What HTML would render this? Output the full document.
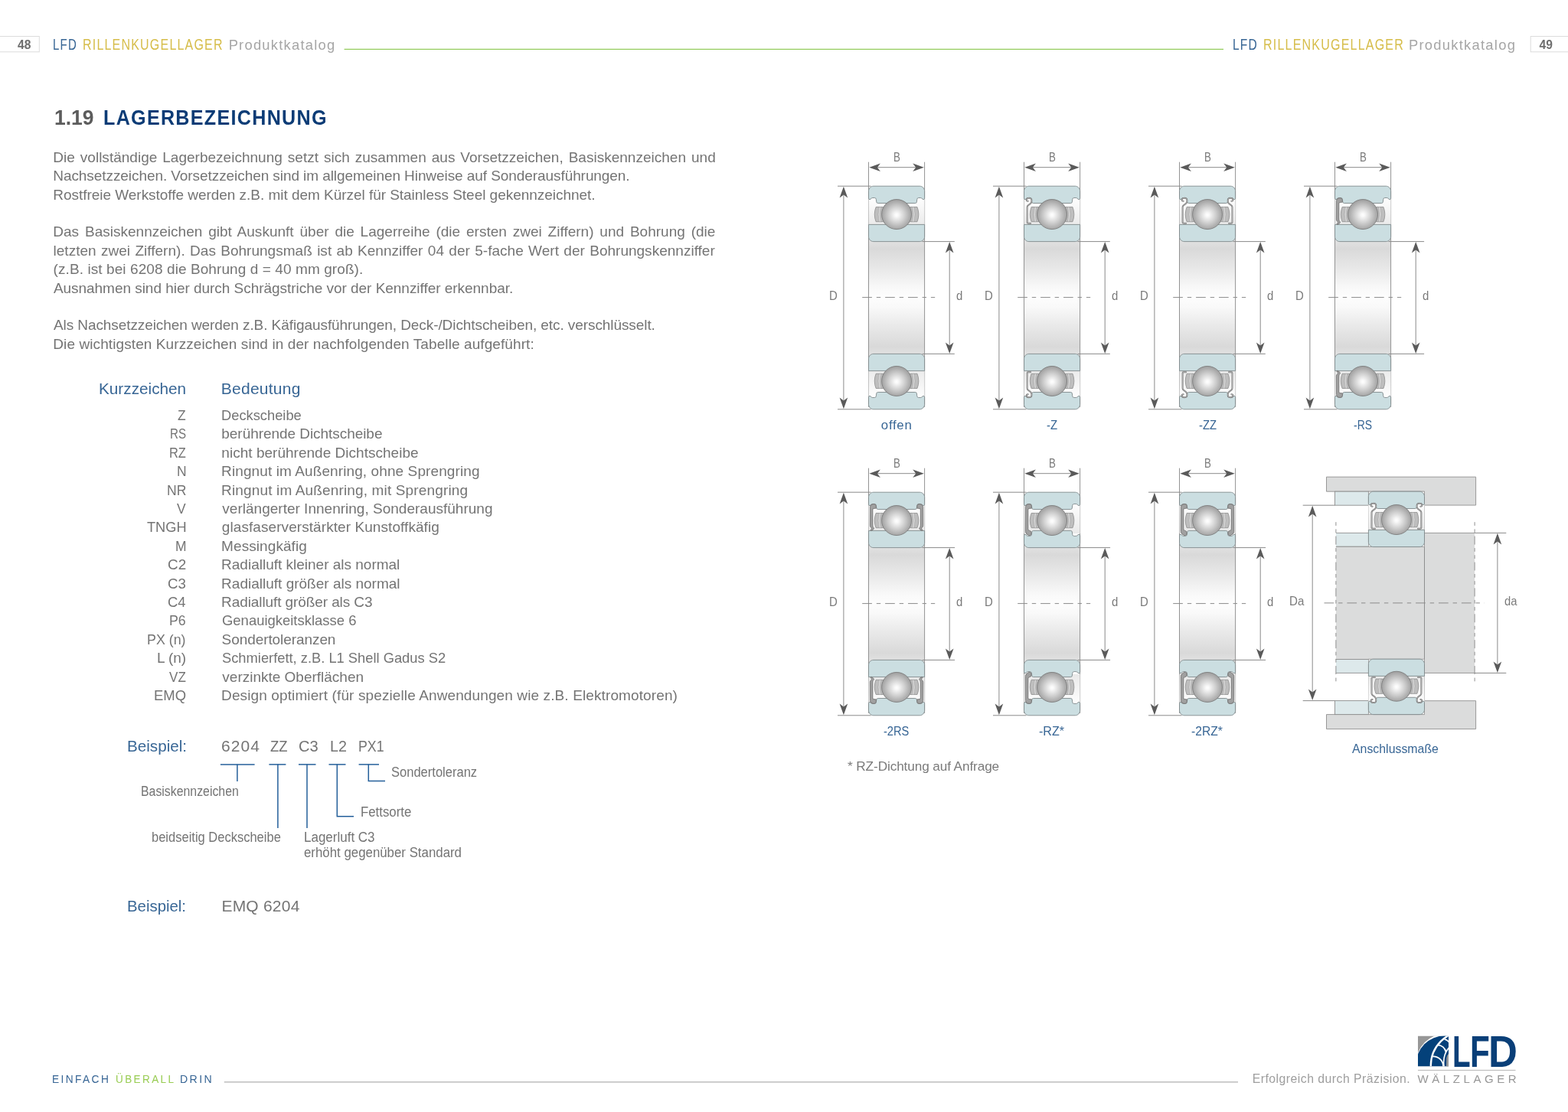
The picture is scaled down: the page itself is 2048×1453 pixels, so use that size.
<!DOCTYPE html>
<html lang="de"><head><meta charset="utf-8"><title>LFD Rillenkugellager Produktkatalog – 1.19 Lagerbezeichnung</title>
<style>
html,body{margin:0;padding:0;background:#fff}
body{width:2048px;height:1453px;position:relative;overflow:hidden;font-family:"Liberation Sans",sans-serif}
.txt{position:absolute;left:0;top:0;width:2048px;height:1453px;will-change:transform}
.t{position:absolute;white-space:pre;line-height:30px;height:30px;transform-origin:0 0}
.lfd{position:absolute;left:0;top:1343.5px;font-size:58px;line-height:60px;height:60px;font-weight:700;color:#0a3f78;white-space:pre}
.lfd span{position:absolute;top:0;display:block;transform-origin:0 0}
</style></head>
<body>
<svg width="2048" height="1453" viewBox="0 0 2048 1453" style="position:absolute;left:0;top:0"><defs>
<clipPath id="lgclip"><rect x="0" y="0" width="40" height="39.8"/></clipPath>
<radialGradient id="ball" cx="0.5" cy="0.52" r="0.52">
<stop offset="0" stop-color="#ffffff"/><stop offset="0.12" stop-color="#f8f8f8"/><stop offset="0.5" stop-color="#d2d2d2"/><stop offset="0.85" stop-color="#adadad"/><stop offset="1" stop-color="#9d9d9d"/>
</radialGradient>
<linearGradient id="gap" x1="0" y1="0" x2="0" y2="1">
<stop offset="0" stop-color="#ffffff"/><stop offset="0.35" stop-color="#f7f7f7"/><stop offset="1" stop-color="#e9e9e9"/>
</linearGradient>
<linearGradient id="bore" x1="0" y1="0" x2="0" y2="1">
<stop offset="0" stop-color="#e3e3e3"/><stop offset="0.08" stop-color="#d9d9d9"/><stop offset="0.26" stop-color="#e9e9e9"/><stop offset="0.42" stop-color="#f9f9f9"/><stop offset="0.5" stop-color="#fdfdfd"/><stop offset="0.58" stop-color="#f9f9f9"/><stop offset="0.74" stop-color="#e9e9e9"/><stop offset="0.92" stop-color="#d9d9d9"/><stop offset="1" stop-color="#e3e3e3"/>
</linearGradient>
</defs><rect x="-1" y="47.5" width="52.3" height="20.3" fill="#fff" stroke="#dcdcdc" stroke-width="1"/><rect x="1999.2" y="47.5" width="52" height="20.3" fill="#fff" stroke="#dcdcdc" stroke-width="1"/><line x1="449.6" y1="64.4" x2="1598" y2="64.4" stroke="#93cb5c" stroke-width="1.1"/><line x1="292.8" y1="1413.8" x2="1617" y2="1413.8" stroke="#b0b0b0" stroke-width="1.2"/><line x1="287.9" y1="998.9" x2="332.6" y2="998.9" stroke="#245f9a" stroke-width="1.5"/><line x1="351.4" y1="998.9" x2="373.4" y2="998.9" stroke="#245f9a" stroke-width="1.5"/><line x1="390" y1="998.9" x2="412.5" y2="998.9" stroke="#245f9a" stroke-width="1.5"/><line x1="429.5" y1="998.9" x2="451.5" y2="998.9" stroke="#245f9a" stroke-width="1.5"/><line x1="468.6" y1="998.9" x2="495" y2="998.9" stroke="#245f9a" stroke-width="1.5"/><line x1="309.9" y1="998.8" x2="309.9" y2="1021" stroke="#245f9a" stroke-width="1.5"/><line x1="362.9" y1="998.8" x2="362.9" y2="1082" stroke="#245f9a" stroke-width="1.5"/><line x1="401" y1="998.8" x2="401" y2="1082" stroke="#245f9a" stroke-width="1.5"/><path d="M440.3,998.8V1066.7H462" fill="none" stroke="#245f9a" stroke-width="1.5"/><path d="M481.3,998.8V1020.4H503" fill="none" stroke="#245f9a" stroke-width="1.5"/><rect x="1134.5" y="312.6" width="73.1" height="152.8" fill="url(#bore)"/><line x1="1134.5" y1="211.7" x2="1134.5" y2="531.8" stroke="#939393" stroke-width="1"/><line x1="1207.6" y1="211.7" x2="1207.6" y2="531.8" stroke="#939393" stroke-width="1"/><g transform="translate(1134.5,243.2)"><rect x="0" y="14" width="73.1" height="40" fill="url(#gap)"/><path d="M0 6.4C0 2.88 2.88 0 6.4 0L66.7 0C70.22 0 73.1 2.88 73.1 6.4L73.1 15.9Q73.1 17.4 71.6 17.4Q70.4 17.2 69.6 16.1Q68.9 15.3 67.7 15.3L65.2 15.3Q63.6 15.3 63.3 17.1L62.8 20.7Q62.6 22.3 61 22.3L12.1 22.3Q10.5 22.3 10.3 20.7L9.8 17.1Q9.5 15.3 7.9 15.3L5.4 15.3Q4.2 15.3 3.5 16.1Q2.7 17.2 1.5 17.4Q0 17.4 0 15.9Z" fill="#cbdee1" stroke="#7f898b" stroke-width="0.9"/><path d="M0 50.2L73.1 50.2L73.1 66C73.1 69.52 70.22 72.4 66.7 72.4L6.4 72.4C2.88 72.4 0 69.52 0 66Z" fill="#cbdee1" stroke="#7f898b" stroke-width="0.9"/><path d="M9.6 27.3L19 27.3L19 46.5L9.6 46.5Q5.9 36.9 9.6 27.3Z" fill="#bebebe" stroke="#8e8e8e" stroke-width="0.8"/><path d="M13.9 27.3Q11.2 36.9 13.9 46.5L16.2 46.5Q13.6 36.9 16.2 27.3Z" fill="#d9d9d9" stroke="#9a9a9a" stroke-width="0.5"/><path d="M63.5 27.3L54.1 27.3L54.1 46.5L63.5 46.5Q67.2 36.9 63.5 27.3Z" fill="#bebebe" stroke="#8e8e8e" stroke-width="0.8"/><path d="M59.2 27.3Q61.9 36.9 59.2 46.5L56.9 46.5Q59.5 36.9 56.9 27.3Z" fill="#d9d9d9" stroke="#9a9a9a" stroke-width="0.5"/></g><g transform="translate(1134.5,534.8) scale(1,-1)"><rect x="0" y="14" width="73.1" height="40" fill="url(#gap)"/><path d="M0 6.4C0 2.88 2.88 0 6.4 0L66.7 0C70.22 0 73.1 2.88 73.1 6.4L73.1 15.9Q73.1 17.4 71.6 17.4Q70.4 17.2 69.6 16.1Q68.9 15.3 67.7 15.3L65.2 15.3Q63.6 15.3 63.3 17.1L62.8 20.7Q62.6 22.3 61 22.3L12.1 22.3Q10.5 22.3 10.3 20.7L9.8 17.1Q9.5 15.3 7.9 15.3L5.4 15.3Q4.2 15.3 3.5 16.1Q2.7 17.2 1.5 17.4Q0 17.4 0 15.9Z" fill="#cbdee1" stroke="#7f898b" stroke-width="0.9"/><path d="M0 50.2L73.1 50.2L73.1 66C73.1 69.52 70.22 72.4 66.7 72.4L6.4 72.4C2.88 72.4 0 69.52 0 66Z" fill="#cbdee1" stroke="#7f898b" stroke-width="0.9"/><path d="M9.6 27.3L19 27.3L19 46.5L9.6 46.5Q5.9 36.9 9.6 27.3Z" fill="#bebebe" stroke="#8e8e8e" stroke-width="0.8"/><path d="M13.9 27.3Q11.2 36.9 13.9 46.5L16.2 46.5Q13.6 36.9 16.2 27.3Z" fill="#d9d9d9" stroke="#9a9a9a" stroke-width="0.5"/><path d="M63.5 27.3L54.1 27.3L54.1 46.5L63.5 46.5Q67.2 36.9 63.5 27.3Z" fill="#bebebe" stroke="#8e8e8e" stroke-width="0.8"/><path d="M59.2 27.3Q61.9 36.9 59.2 46.5L56.9 46.5Q59.5 36.9 56.9 27.3Z" fill="#d9d9d9" stroke="#9a9a9a" stroke-width="0.5"/></g><circle cx="1171.05" cy="280.05" r="19.5" fill="url(#ball)" stroke="#7d7d7d" stroke-width="0.9"/><circle cx="1171.05" cy="497.95" r="19.5" fill="url(#ball)" stroke="#7d7d7d" stroke-width="0.9"/><line x1="1126.2" y1="388.6" x2="1221.2" y2="388.6" stroke="#8a8a8a" stroke-width="1" stroke-dasharray="12.7 5.9 5.4 5.9"/><line x1="1140.5" y1="218.7" x2="1201.6" y2="218.7" stroke="#8a8a8a" stroke-width="1"/><polygon points="1135.3,218.7 1149.9,213.4 1145.9,218.7 1149.9,224" fill="#5a5a5a"/><polygon points="1206.8,218.7 1192.2,213.4 1196.2,218.7 1192.2,224" fill="#5a5a5a"/><line x1="1094" y1="243.2" x2="1137.5" y2="243.2" stroke="#8a8a8a" stroke-width="1"/><line x1="1094" y1="534.8" x2="1137.5" y2="534.8" stroke="#8a8a8a" stroke-width="1"/><line x1="1101.9" y1="249.2" x2="1101.9" y2="528.8" stroke="#8a8a8a" stroke-width="1"/><polygon points="1101.9,243.8 1107.2,258.4 1101.9,254.4 1096.6,258.4" fill="#5a5a5a"/><polygon points="1101.9,534.2 1107.2,519.6 1101.9,523.6 1096.6,519.6" fill="#5a5a5a"/><line x1="1204.6" y1="315.6" x2="1246.8" y2="315.6" stroke="#8a8a8a" stroke-width="1"/><line x1="1204.6" y1="462.4" x2="1246.8" y2="462.4" stroke="#8a8a8a" stroke-width="1"/><line x1="1240.2" y1="321.6" x2="1240.2" y2="456.4" stroke="#8a8a8a" stroke-width="1"/><polygon points="1240.2,315.9 1245.5,330.5 1240.2,326.5 1234.9,330.5" fill="#5a5a5a"/><polygon points="1240.2,462.1 1245.5,447.5 1240.2,451.5 1234.9,447.5" fill="#5a5a5a"/><rect x="1337.5" y="312.6" width="73.1" height="152.8" fill="url(#bore)"/><line x1="1337.5" y1="211.7" x2="1337.5" y2="531.8" stroke="#939393" stroke-width="1"/><line x1="1410.6" y1="211.7" x2="1410.6" y2="531.8" stroke="#939393" stroke-width="1"/><g transform="translate(1337.5,243.2)"><rect x="0" y="14" width="73.1" height="40" fill="url(#gap)"/><path d="M0 6.4C0 2.88 2.88 0 6.4 0L66.7 0C70.22 0 73.1 2.88 73.1 6.4L73.1 15.9Q73.1 17.4 71.6 17.4Q70.4 17.2 69.6 16.1Q68.9 15.3 67.7 15.3L65.2 15.3Q63.6 15.3 63.3 17.1L62.8 20.7Q62.6 22.3 61 22.3L12.1 22.3Q10.5 22.3 10.3 20.7L9.8 17.1Q9.5 15.3 7.9 15.3L5.4 15.3Q4.2 15.3 3.5 16.1Q2.7 17.2 1.5 17.4Q0 17.4 0 15.9Z" fill="#cbdee1" stroke="#7f898b" stroke-width="0.9"/><path d="M0 50.2L73.1 50.2L73.1 66C73.1 69.52 70.22 72.4 66.7 72.4L6.4 72.4C2.88 72.4 0 69.52 0 66Z" fill="#cbdee1" stroke="#7f898b" stroke-width="0.9"/><path d="M9.6 27.3L19 27.3L19 46.5L9.6 46.5Q5.9 36.9 9.6 27.3Z" fill="#bebebe" stroke="#8e8e8e" stroke-width="0.8"/><path d="M13.9 27.3Q11.2 36.9 13.9 46.5L16.2 46.5Q13.6 36.9 16.2 27.3Z" fill="#d9d9d9" stroke="#9a9a9a" stroke-width="0.5"/><path d="M63.5 27.3L54.1 27.3L54.1 46.5L63.5 46.5Q67.2 36.9 63.5 27.3Z" fill="#bebebe" stroke="#8e8e8e" stroke-width="0.8"/><path d="M59.2 27.3Q61.9 36.9 59.2 46.5L56.9 46.5Q59.5 36.9 56.9 27.3Z" fill="#d9d9d9" stroke="#9a9a9a" stroke-width="0.5"/><path d="M5.2 19.6Q3 19.6 3.2 17.8Q3.6 15.6 6.2 15.6Q9.9 15.4 9.9 18.4Q10.1 21.6 8.4 22.9L5.2 25.4Q4.1 26.3 4.1 27.6L4.1 47.4Q4.1 48.5 5.4 48.5L8.6 48.5" fill="none" stroke="#757575" stroke-width="1.9" stroke-linecap="round" stroke-linejoin="round"/><path d="M5.2 19.6Q3 19.6 3.2 17.8Q3.6 15.6 6.2 15.6Q9.9 15.4 9.9 18.4Q10.1 21.6 8.4 22.9L5.2 25.4Q4.1 26.3 4.1 27.6L4.1 47.4Q4.1 48.5 5.4 48.5L8.6 48.5" fill="none" stroke="#d0d0d0" stroke-width="0.6" stroke-linecap="round" stroke-linejoin="round"/></g><g transform="translate(1337.5,534.8) scale(1,-1)"><rect x="0" y="14" width="73.1" height="40" fill="url(#gap)"/><path d="M0 6.4C0 2.88 2.88 0 6.4 0L66.7 0C70.22 0 73.1 2.88 73.1 6.4L73.1 15.9Q73.1 17.4 71.6 17.4Q70.4 17.2 69.6 16.1Q68.9 15.3 67.7 15.3L65.2 15.3Q63.6 15.3 63.3 17.1L62.8 20.7Q62.6 22.3 61 22.3L12.1 22.3Q10.5 22.3 10.3 20.7L9.8 17.1Q9.5 15.3 7.9 15.3L5.4 15.3Q4.2 15.3 3.5 16.1Q2.7 17.2 1.5 17.4Q0 17.4 0 15.9Z" fill="#cbdee1" stroke="#7f898b" stroke-width="0.9"/><path d="M0 50.2L73.1 50.2L73.1 66C73.1 69.52 70.22 72.4 66.7 72.4L6.4 72.4C2.88 72.4 0 69.52 0 66Z" fill="#cbdee1" stroke="#7f898b" stroke-width="0.9"/><path d="M9.6 27.3L19 27.3L19 46.5L9.6 46.5Q5.9 36.9 9.6 27.3Z" fill="#bebebe" stroke="#8e8e8e" stroke-width="0.8"/><path d="M13.9 27.3Q11.2 36.9 13.9 46.5L16.2 46.5Q13.6 36.9 16.2 27.3Z" fill="#d9d9d9" stroke="#9a9a9a" stroke-width="0.5"/><path d="M63.5 27.3L54.1 27.3L54.1 46.5L63.5 46.5Q67.2 36.9 63.5 27.3Z" fill="#bebebe" stroke="#8e8e8e" stroke-width="0.8"/><path d="M59.2 27.3Q61.9 36.9 59.2 46.5L56.9 46.5Q59.5 36.9 56.9 27.3Z" fill="#d9d9d9" stroke="#9a9a9a" stroke-width="0.5"/><path d="M5.2 19.6Q3 19.6 3.2 17.8Q3.6 15.6 6.2 15.6Q9.9 15.4 9.9 18.4Q10.1 21.6 8.4 22.9L5.2 25.4Q4.1 26.3 4.1 27.6L4.1 47.4Q4.1 48.5 5.4 48.5L8.6 48.5" fill="none" stroke="#757575" stroke-width="1.9" stroke-linecap="round" stroke-linejoin="round"/><path d="M5.2 19.6Q3 19.6 3.2 17.8Q3.6 15.6 6.2 15.6Q9.9 15.4 9.9 18.4Q10.1 21.6 8.4 22.9L5.2 25.4Q4.1 26.3 4.1 27.6L4.1 47.4Q4.1 48.5 5.4 48.5L8.6 48.5" fill="none" stroke="#d0d0d0" stroke-width="0.6" stroke-linecap="round" stroke-linejoin="round"/></g><circle cx="1374.05" cy="280.05" r="19.5" fill="url(#ball)" stroke="#7d7d7d" stroke-width="0.9"/><circle cx="1374.05" cy="497.95" r="19.5" fill="url(#ball)" stroke="#7d7d7d" stroke-width="0.9"/><line x1="1329.2" y1="388.6" x2="1424.2" y2="388.6" stroke="#8a8a8a" stroke-width="1" stroke-dasharray="12.7 5.9 5.4 5.9"/><line x1="1343.5" y1="218.7" x2="1404.6" y2="218.7" stroke="#8a8a8a" stroke-width="1"/><polygon points="1338.3,218.7 1352.9,213.4 1348.9,218.7 1352.9,224" fill="#5a5a5a"/><polygon points="1409.8,218.7 1395.2,213.4 1399.2,218.7 1395.2,224" fill="#5a5a5a"/><line x1="1297" y1="243.2" x2="1340.5" y2="243.2" stroke="#8a8a8a" stroke-width="1"/><line x1="1297" y1="534.8" x2="1340.5" y2="534.8" stroke="#8a8a8a" stroke-width="1"/><line x1="1304.9" y1="249.2" x2="1304.9" y2="528.8" stroke="#8a8a8a" stroke-width="1"/><polygon points="1304.9,243.8 1310.2,258.4 1304.9,254.4 1299.6,258.4" fill="#5a5a5a"/><polygon points="1304.9,534.2 1310.2,519.6 1304.9,523.6 1299.6,519.6" fill="#5a5a5a"/><line x1="1407.6" y1="315.6" x2="1449.8" y2="315.6" stroke="#8a8a8a" stroke-width="1"/><line x1="1407.6" y1="462.4" x2="1449.8" y2="462.4" stroke="#8a8a8a" stroke-width="1"/><line x1="1443.2" y1="321.6" x2="1443.2" y2="456.4" stroke="#8a8a8a" stroke-width="1"/><polygon points="1443.2,315.9 1448.5,330.5 1443.2,326.5 1437.9,330.5" fill="#5a5a5a"/><polygon points="1443.2,462.1 1448.5,447.5 1443.2,451.5 1437.9,447.5" fill="#5a5a5a"/><rect x="1540.5" y="312.6" width="73.1" height="152.8" fill="url(#bore)"/><line x1="1540.5" y1="211.7" x2="1540.5" y2="531.8" stroke="#939393" stroke-width="1"/><line x1="1613.6" y1="211.7" x2="1613.6" y2="531.8" stroke="#939393" stroke-width="1"/><g transform="translate(1540.5,243.2)"><rect x="0" y="14" width="73.1" height="40" fill="url(#gap)"/><path d="M0 6.4C0 2.88 2.88 0 6.4 0L66.7 0C70.22 0 73.1 2.88 73.1 6.4L73.1 15.9Q73.1 17.4 71.6 17.4Q70.4 17.2 69.6 16.1Q68.9 15.3 67.7 15.3L65.2 15.3Q63.6 15.3 63.3 17.1L62.8 20.7Q62.6 22.3 61 22.3L12.1 22.3Q10.5 22.3 10.3 20.7L9.8 17.1Q9.5 15.3 7.9 15.3L5.4 15.3Q4.2 15.3 3.5 16.1Q2.7 17.2 1.5 17.4Q0 17.4 0 15.9Z" fill="#cbdee1" stroke="#7f898b" stroke-width="0.9"/><path d="M0 50.2L73.1 50.2L73.1 66C73.1 69.52 70.22 72.4 66.7 72.4L6.4 72.4C2.88 72.4 0 69.52 0 66Z" fill="#cbdee1" stroke="#7f898b" stroke-width="0.9"/><path d="M9.6 27.3L19 27.3L19 46.5L9.6 46.5Q5.9 36.9 9.6 27.3Z" fill="#bebebe" stroke="#8e8e8e" stroke-width="0.8"/><path d="M13.9 27.3Q11.2 36.9 13.9 46.5L16.2 46.5Q13.6 36.9 16.2 27.3Z" fill="#d9d9d9" stroke="#9a9a9a" stroke-width="0.5"/><path d="M63.5 27.3L54.1 27.3L54.1 46.5L63.5 46.5Q67.2 36.9 63.5 27.3Z" fill="#bebebe" stroke="#8e8e8e" stroke-width="0.8"/><path d="M59.2 27.3Q61.9 36.9 59.2 46.5L56.9 46.5Q59.5 36.9 56.9 27.3Z" fill="#d9d9d9" stroke="#9a9a9a" stroke-width="0.5"/><path d="M5.2 19.6Q3 19.6 3.2 17.8Q3.6 15.6 6.2 15.6Q9.9 15.4 9.9 18.4Q10.1 21.6 8.4 22.9L5.2 25.4Q4.1 26.3 4.1 27.6L4.1 47.4Q4.1 48.5 5.4 48.5L8.6 48.5" fill="none" stroke="#757575" stroke-width="1.9" stroke-linecap="round" stroke-linejoin="round"/><path d="M5.2 19.6Q3 19.6 3.2 17.8Q3.6 15.6 6.2 15.6Q9.9 15.4 9.9 18.4Q10.1 21.6 8.4 22.9L5.2 25.4Q4.1 26.3 4.1 27.6L4.1 47.4Q4.1 48.5 5.4 48.5L8.6 48.5" fill="none" stroke="#d0d0d0" stroke-width="0.6" stroke-linecap="round" stroke-linejoin="round"/><path d="M67.9 19.6Q70.1 19.6 69.9 17.8Q69.5 15.6 66.9 15.6Q63.2 15.4 63.2 18.4Q63 21.6 64.7 22.9L67.9 25.4Q69 26.3 69 27.6L69 47.4Q69 48.5 67.7 48.5L64.5 48.5" fill="none" stroke="#757575" stroke-width="1.9" stroke-linecap="round" stroke-linejoin="round"/><path d="M67.9 19.6Q70.1 19.6 69.9 17.8Q69.5 15.6 66.9 15.6Q63.2 15.4 63.2 18.4Q63 21.6 64.7 22.9L67.9 25.4Q69 26.3 69 27.6L69 47.4Q69 48.5 67.7 48.5L64.5 48.5" fill="none" stroke="#d0d0d0" stroke-width="0.6" stroke-linecap="round" stroke-linejoin="round"/></g><g transform="translate(1540.5,534.8) scale(1,-1)"><rect x="0" y="14" width="73.1" height="40" fill="url(#gap)"/><path d="M0 6.4C0 2.88 2.88 0 6.4 0L66.7 0C70.22 0 73.1 2.88 73.1 6.4L73.1 15.9Q73.1 17.4 71.6 17.4Q70.4 17.2 69.6 16.1Q68.9 15.3 67.7 15.3L65.2 15.3Q63.6 15.3 63.3 17.1L62.8 20.7Q62.6 22.3 61 22.3L12.1 22.3Q10.5 22.3 10.3 20.7L9.8 17.1Q9.5 15.3 7.9 15.3L5.4 15.3Q4.2 15.3 3.5 16.1Q2.7 17.2 1.5 17.4Q0 17.4 0 15.9Z" fill="#cbdee1" stroke="#7f898b" stroke-width="0.9"/><path d="M0 50.2L73.1 50.2L73.1 66C73.1 69.52 70.22 72.4 66.7 72.4L6.4 72.4C2.88 72.4 0 69.52 0 66Z" fill="#cbdee1" stroke="#7f898b" stroke-width="0.9"/><path d="M9.6 27.3L19 27.3L19 46.5L9.6 46.5Q5.9 36.9 9.6 27.3Z" fill="#bebebe" stroke="#8e8e8e" stroke-width="0.8"/><path d="M13.9 27.3Q11.2 36.9 13.9 46.5L16.2 46.5Q13.6 36.9 16.2 27.3Z" fill="#d9d9d9" stroke="#9a9a9a" stroke-width="0.5"/><path d="M63.5 27.3L54.1 27.3L54.1 46.5L63.5 46.5Q67.2 36.9 63.5 27.3Z" fill="#bebebe" stroke="#8e8e8e" stroke-width="0.8"/><path d="M59.2 27.3Q61.9 36.9 59.2 46.5L56.9 46.5Q59.5 36.9 56.9 27.3Z" fill="#d9d9d9" stroke="#9a9a9a" stroke-width="0.5"/><path d="M5.2 19.6Q3 19.6 3.2 17.8Q3.6 15.6 6.2 15.6Q9.9 15.4 9.9 18.4Q10.1 21.6 8.4 22.9L5.2 25.4Q4.1 26.3 4.1 27.6L4.1 47.4Q4.1 48.5 5.4 48.5L8.6 48.5" fill="none" stroke="#757575" stroke-width="1.9" stroke-linecap="round" stroke-linejoin="round"/><path d="M5.2 19.6Q3 19.6 3.2 17.8Q3.6 15.6 6.2 15.6Q9.9 15.4 9.9 18.4Q10.1 21.6 8.4 22.9L5.2 25.4Q4.1 26.3 4.1 27.6L4.1 47.4Q4.1 48.5 5.4 48.5L8.6 48.5" fill="none" stroke="#d0d0d0" stroke-width="0.6" stroke-linecap="round" stroke-linejoin="round"/><path d="M67.9 19.6Q70.1 19.6 69.9 17.8Q69.5 15.6 66.9 15.6Q63.2 15.4 63.2 18.4Q63 21.6 64.7 22.9L67.9 25.4Q69 26.3 69 27.6L69 47.4Q69 48.5 67.7 48.5L64.5 48.5" fill="none" stroke="#757575" stroke-width="1.9" stroke-linecap="round" stroke-linejoin="round"/><path d="M67.9 19.6Q70.1 19.6 69.9 17.8Q69.5 15.6 66.9 15.6Q63.2 15.4 63.2 18.4Q63 21.6 64.7 22.9L67.9 25.4Q69 26.3 69 27.6L69 47.4Q69 48.5 67.7 48.5L64.5 48.5" fill="none" stroke="#d0d0d0" stroke-width="0.6" stroke-linecap="round" stroke-linejoin="round"/></g><circle cx="1577.05" cy="280.05" r="19.5" fill="url(#ball)" stroke="#7d7d7d" stroke-width="0.9"/><circle cx="1577.05" cy="497.95" r="19.5" fill="url(#ball)" stroke="#7d7d7d" stroke-width="0.9"/><line x1="1532.2" y1="388.6" x2="1627.2" y2="388.6" stroke="#8a8a8a" stroke-width="1" stroke-dasharray="12.7 5.9 5.4 5.9"/><line x1="1546.5" y1="218.7" x2="1607.6" y2="218.7" stroke="#8a8a8a" stroke-width="1"/><polygon points="1541.3,218.7 1555.9,213.4 1551.9,218.7 1555.9,224" fill="#5a5a5a"/><polygon points="1612.8,218.7 1598.2,213.4 1602.2,218.7 1598.2,224" fill="#5a5a5a"/><line x1="1500" y1="243.2" x2="1543.5" y2="243.2" stroke="#8a8a8a" stroke-width="1"/><line x1="1500" y1="534.8" x2="1543.5" y2="534.8" stroke="#8a8a8a" stroke-width="1"/><line x1="1507.9" y1="249.2" x2="1507.9" y2="528.8" stroke="#8a8a8a" stroke-width="1"/><polygon points="1507.9,243.8 1513.2,258.4 1507.9,254.4 1502.6,258.4" fill="#5a5a5a"/><polygon points="1507.9,534.2 1513.2,519.6 1507.9,523.6 1502.6,519.6" fill="#5a5a5a"/><line x1="1610.6" y1="315.6" x2="1652.8" y2="315.6" stroke="#8a8a8a" stroke-width="1"/><line x1="1610.6" y1="462.4" x2="1652.8" y2="462.4" stroke="#8a8a8a" stroke-width="1"/><line x1="1646.2" y1="321.6" x2="1646.2" y2="456.4" stroke="#8a8a8a" stroke-width="1"/><polygon points="1646.2,315.9 1651.5,330.5 1646.2,326.5 1640.9,330.5" fill="#5a5a5a"/><polygon points="1646.2,462.1 1651.5,447.5 1646.2,451.5 1640.9,447.5" fill="#5a5a5a"/><rect x="1743.5" y="312.6" width="73.1" height="152.8" fill="url(#bore)"/><line x1="1743.5" y1="211.7" x2="1743.5" y2="531.8" stroke="#939393" stroke-width="1"/><line x1="1816.6" y1="211.7" x2="1816.6" y2="531.8" stroke="#939393" stroke-width="1"/><g transform="translate(1743.5,243.2)"><rect x="0" y="14" width="73.1" height="40" fill="url(#gap)"/><path d="M0 6.4C0 2.88 2.88 0 6.4 0L66.7 0C70.22 0 73.1 2.88 73.1 6.4L73.1 15.9Q73.1 17.4 71.6 17.4Q70.4 17.2 69.6 16.1Q68.9 15.3 67.7 15.3L65.2 15.3Q63.6 15.3 63.3 17.1L62.8 20.7Q62.6 22.3 61 22.3L12.1 22.3Q10.5 22.3 10.3 20.7L9.8 17.1Q9.5 15.3 7.9 15.3L5.4 15.3Q4.2 15.3 3.5 16.1Q2.7 17.2 1.5 17.4Q0 17.4 0 15.9Z" fill="#cbdee1" stroke="#7f898b" stroke-width="0.9"/><path d="M0 50.2L73.1 50.2L73.1 66C73.1 69.52 70.22 72.4 66.7 72.4L6.4 72.4C2.88 72.4 0 69.52 0 66Z" fill="#cbdee1" stroke="#7f898b" stroke-width="0.9"/><path d="M9.6 27.3L19 27.3L19 46.5L9.6 46.5Q5.9 36.9 9.6 27.3Z" fill="#bebebe" stroke="#8e8e8e" stroke-width="0.8"/><path d="M13.9 27.3Q11.2 36.9 13.9 46.5L16.2 46.5Q13.6 36.9 16.2 27.3Z" fill="#d9d9d9" stroke="#9a9a9a" stroke-width="0.5"/><path d="M63.5 27.3L54.1 27.3L54.1 46.5L63.5 46.5Q67.2 36.9 63.5 27.3Z" fill="#bebebe" stroke="#8e8e8e" stroke-width="0.8"/><path d="M59.2 27.3Q61.9 36.9 59.2 46.5L56.9 46.5Q59.5 36.9 56.9 27.3Z" fill="#d9d9d9" stroke="#9a9a9a" stroke-width="0.5"/><path d="M1.9 19.2Q2.2 15.4 6.4 15.4Q9.6 15.4 9.7 17.4L9.9 20.9L6.6 21.2Q5.3 21.3 5.3 22.8L5.3 43.8Q5.3 45.2 6.4 46.2Q7.6 47.4 6.4 48.4L3.8 50.3L2.4 50L3.9 47.8Q4.2 47 3.4 46.3Q1.9 45 1.9 43.6Z" fill="#a0a0a0" stroke="#747474" stroke-width="0.9" stroke-linejoin="round"/></g><g transform="translate(1743.5,534.8) scale(1,-1)"><rect x="0" y="14" width="73.1" height="40" fill="url(#gap)"/><path d="M0 6.4C0 2.88 2.88 0 6.4 0L66.7 0C70.22 0 73.1 2.88 73.1 6.4L73.1 15.9Q73.1 17.4 71.6 17.4Q70.4 17.2 69.6 16.1Q68.9 15.3 67.7 15.3L65.2 15.3Q63.6 15.3 63.3 17.1L62.8 20.7Q62.6 22.3 61 22.3L12.1 22.3Q10.5 22.3 10.3 20.7L9.8 17.1Q9.5 15.3 7.9 15.3L5.4 15.3Q4.2 15.3 3.5 16.1Q2.7 17.2 1.5 17.4Q0 17.4 0 15.9Z" fill="#cbdee1" stroke="#7f898b" stroke-width="0.9"/><path d="M0 50.2L73.1 50.2L73.1 66C73.1 69.52 70.22 72.4 66.7 72.4L6.4 72.4C2.88 72.4 0 69.52 0 66Z" fill="#cbdee1" stroke="#7f898b" stroke-width="0.9"/><path d="M9.6 27.3L19 27.3L19 46.5L9.6 46.5Q5.9 36.9 9.6 27.3Z" fill="#bebebe" stroke="#8e8e8e" stroke-width="0.8"/><path d="M13.9 27.3Q11.2 36.9 13.9 46.5L16.2 46.5Q13.6 36.9 16.2 27.3Z" fill="#d9d9d9" stroke="#9a9a9a" stroke-width="0.5"/><path d="M63.5 27.3L54.1 27.3L54.1 46.5L63.5 46.5Q67.2 36.9 63.5 27.3Z" fill="#bebebe" stroke="#8e8e8e" stroke-width="0.8"/><path d="M59.2 27.3Q61.9 36.9 59.2 46.5L56.9 46.5Q59.5 36.9 56.9 27.3Z" fill="#d9d9d9" stroke="#9a9a9a" stroke-width="0.5"/><path d="M1.9 19.2Q2.2 15.4 6.4 15.4Q9.6 15.4 9.7 17.4L9.9 20.9L6.6 21.2Q5.3 21.3 5.3 22.8L5.3 43.8Q5.3 45.2 6.4 46.2Q7.6 47.4 6.4 48.4L3.8 50.3L2.4 50L3.9 47.8Q4.2 47 3.4 46.3Q1.9 45 1.9 43.6Z" fill="#a0a0a0" stroke="#747474" stroke-width="0.9" stroke-linejoin="round"/></g><circle cx="1780.05" cy="280.05" r="19.5" fill="url(#ball)" stroke="#7d7d7d" stroke-width="0.9"/><circle cx="1780.05" cy="497.95" r="19.5" fill="url(#ball)" stroke="#7d7d7d" stroke-width="0.9"/><line x1="1735.2" y1="388.6" x2="1830.2" y2="388.6" stroke="#8a8a8a" stroke-width="1" stroke-dasharray="12.7 5.9 5.4 5.9"/><line x1="1749.5" y1="218.7" x2="1810.6" y2="218.7" stroke="#8a8a8a" stroke-width="1"/><polygon points="1744.3,218.7 1758.9,213.4 1754.9,218.7 1758.9,224" fill="#5a5a5a"/><polygon points="1815.8,218.7 1801.2,213.4 1805.2,218.7 1801.2,224" fill="#5a5a5a"/><line x1="1703" y1="243.2" x2="1746.5" y2="243.2" stroke="#8a8a8a" stroke-width="1"/><line x1="1703" y1="534.8" x2="1746.5" y2="534.8" stroke="#8a8a8a" stroke-width="1"/><line x1="1710.9" y1="249.2" x2="1710.9" y2="528.8" stroke="#8a8a8a" stroke-width="1"/><polygon points="1710.9,243.8 1716.2,258.4 1710.9,254.4 1705.6,258.4" fill="#5a5a5a"/><polygon points="1710.9,534.2 1716.2,519.6 1710.9,523.6 1705.6,519.6" fill="#5a5a5a"/><line x1="1813.6" y1="315.6" x2="1860.1" y2="315.6" stroke="#8a8a8a" stroke-width="1"/><line x1="1813.6" y1="462.4" x2="1860.1" y2="462.4" stroke="#8a8a8a" stroke-width="1"/><line x1="1849.2" y1="321.6" x2="1849.2" y2="456.4" stroke="#8a8a8a" stroke-width="1"/><polygon points="1849.2,315.9 1854.5,330.5 1849.2,326.5 1843.9,330.5" fill="#5a5a5a"/><polygon points="1849.2,462.1 1854.5,447.5 1849.2,451.5 1843.9,447.5" fill="#5a5a5a"/><rect x="1134.5" y="712.6" width="73.1" height="152.8" fill="url(#bore)"/><line x1="1134.5" y1="611.7" x2="1134.5" y2="931.8" stroke="#939393" stroke-width="1"/><line x1="1207.6" y1="611.7" x2="1207.6" y2="931.8" stroke="#939393" stroke-width="1"/><g transform="translate(1134.5,643.2)"><rect x="0" y="14" width="73.1" height="40" fill="url(#gap)"/><path d="M0 6.4C0 2.88 2.88 0 6.4 0L66.7 0C70.22 0 73.1 2.88 73.1 6.4L73.1 15.9Q73.1 17.4 71.6 17.4Q70.4 17.2 69.6 16.1Q68.9 15.3 67.7 15.3L65.2 15.3Q63.6 15.3 63.3 17.1L62.8 20.7Q62.6 22.3 61 22.3L12.1 22.3Q10.5 22.3 10.3 20.7L9.8 17.1Q9.5 15.3 7.9 15.3L5.4 15.3Q4.2 15.3 3.5 16.1Q2.7 17.2 1.5 17.4Q0 17.4 0 15.9Z" fill="#cbdee1" stroke="#7f898b" stroke-width="0.9"/><path d="M0 50.2L73.1 50.2L73.1 66C73.1 69.52 70.22 72.4 66.7 72.4L6.4 72.4C2.88 72.4 0 69.52 0 66Z" fill="#cbdee1" stroke="#7f898b" stroke-width="0.9"/><path d="M9.6 27.3L19 27.3L19 46.5L9.6 46.5Q5.9 36.9 9.6 27.3Z" fill="#bebebe" stroke="#8e8e8e" stroke-width="0.8"/><path d="M13.9 27.3Q11.2 36.9 13.9 46.5L16.2 46.5Q13.6 36.9 16.2 27.3Z" fill="#d9d9d9" stroke="#9a9a9a" stroke-width="0.5"/><path d="M63.5 27.3L54.1 27.3L54.1 46.5L63.5 46.5Q67.2 36.9 63.5 27.3Z" fill="#bebebe" stroke="#8e8e8e" stroke-width="0.8"/><path d="M59.2 27.3Q61.9 36.9 59.2 46.5L56.9 46.5Q59.5 36.9 56.9 27.3Z" fill="#d9d9d9" stroke="#9a9a9a" stroke-width="0.5"/><path d="M1.9 19.2Q2.2 15.4 6.4 15.4Q9.6 15.4 9.7 17.4L9.9 20.9L6.6 21.2Q5.3 21.3 5.3 22.8L5.3 43.8Q5.3 45.2 6.4 46.2Q7.6 47.4 6.4 48.4L3.8 50.3L2.4 50L3.9 47.8Q4.2 47 3.4 46.3Q1.9 45 1.9 43.6Z" fill="#a0a0a0" stroke="#747474" stroke-width="0.9" stroke-linejoin="round"/><path d="M71.2 19.2Q70.9 15.4 66.7 15.4Q63.5 15.4 63.4 17.4L63.2 20.9L66.5 21.2Q67.8 21.3 67.8 22.8L67.8 43.8Q67.8 45.2 66.7 46.2Q65.5 47.4 66.7 48.4L69.3 50.3L70.7 50L69.2 47.8Q68.9 47 69.7 46.3Q71.2 45 71.2 43.6Z" fill="#a0a0a0" stroke="#747474" stroke-width="0.9" stroke-linejoin="round"/></g><g transform="translate(1134.5,934.8) scale(1,-1)"><rect x="0" y="14" width="73.1" height="40" fill="url(#gap)"/><path d="M0 6.4C0 2.88 2.88 0 6.4 0L66.7 0C70.22 0 73.1 2.88 73.1 6.4L73.1 15.9Q73.1 17.4 71.6 17.4Q70.4 17.2 69.6 16.1Q68.9 15.3 67.7 15.3L65.2 15.3Q63.6 15.3 63.3 17.1L62.8 20.7Q62.6 22.3 61 22.3L12.1 22.3Q10.5 22.3 10.3 20.7L9.8 17.1Q9.5 15.3 7.9 15.3L5.4 15.3Q4.2 15.3 3.5 16.1Q2.7 17.2 1.5 17.4Q0 17.4 0 15.9Z" fill="#cbdee1" stroke="#7f898b" stroke-width="0.9"/><path d="M0 50.2L73.1 50.2L73.1 66C73.1 69.52 70.22 72.4 66.7 72.4L6.4 72.4C2.88 72.4 0 69.52 0 66Z" fill="#cbdee1" stroke="#7f898b" stroke-width="0.9"/><path d="M9.6 27.3L19 27.3L19 46.5L9.6 46.5Q5.9 36.9 9.6 27.3Z" fill="#bebebe" stroke="#8e8e8e" stroke-width="0.8"/><path d="M13.9 27.3Q11.2 36.9 13.9 46.5L16.2 46.5Q13.6 36.9 16.2 27.3Z" fill="#d9d9d9" stroke="#9a9a9a" stroke-width="0.5"/><path d="M63.5 27.3L54.1 27.3L54.1 46.5L63.5 46.5Q67.2 36.9 63.5 27.3Z" fill="#bebebe" stroke="#8e8e8e" stroke-width="0.8"/><path d="M59.2 27.3Q61.9 36.9 59.2 46.5L56.9 46.5Q59.5 36.9 56.9 27.3Z" fill="#d9d9d9" stroke="#9a9a9a" stroke-width="0.5"/><path d="M1.9 19.2Q2.2 15.4 6.4 15.4Q9.6 15.4 9.7 17.4L9.9 20.9L6.6 21.2Q5.3 21.3 5.3 22.8L5.3 43.8Q5.3 45.2 6.4 46.2Q7.6 47.4 6.4 48.4L3.8 50.3L2.4 50L3.9 47.8Q4.2 47 3.4 46.3Q1.9 45 1.9 43.6Z" fill="#a0a0a0" stroke="#747474" stroke-width="0.9" stroke-linejoin="round"/><path d="M71.2 19.2Q70.9 15.4 66.7 15.4Q63.5 15.4 63.4 17.4L63.2 20.9L66.5 21.2Q67.8 21.3 67.8 22.8L67.8 43.8Q67.8 45.2 66.7 46.2Q65.5 47.4 66.7 48.4L69.3 50.3L70.7 50L69.2 47.8Q68.9 47 69.7 46.3Q71.2 45 71.2 43.6Z" fill="#a0a0a0" stroke="#747474" stroke-width="0.9" stroke-linejoin="round"/></g><circle cx="1171.05" cy="680.05" r="19.5" fill="url(#ball)" stroke="#7d7d7d" stroke-width="0.9"/><circle cx="1171.05" cy="897.95" r="19.5" fill="url(#ball)" stroke="#7d7d7d" stroke-width="0.9"/><line x1="1126.2" y1="788.6" x2="1221.2" y2="788.6" stroke="#8a8a8a" stroke-width="1" stroke-dasharray="12.7 5.9 5.4 5.9"/><line x1="1140.5" y1="618.7" x2="1201.6" y2="618.7" stroke="#8a8a8a" stroke-width="1"/><polygon points="1135.3,618.7 1149.9,613.4 1145.9,618.7 1149.9,624" fill="#5a5a5a"/><polygon points="1206.8,618.7 1192.2,613.4 1196.2,618.7 1192.2,624" fill="#5a5a5a"/><line x1="1094" y1="643.2" x2="1137.5" y2="643.2" stroke="#8a8a8a" stroke-width="1"/><line x1="1094" y1="934.8" x2="1137.5" y2="934.8" stroke="#8a8a8a" stroke-width="1"/><line x1="1101.9" y1="649.2" x2="1101.9" y2="928.8" stroke="#8a8a8a" stroke-width="1"/><polygon points="1101.9,643.8 1107.2,658.4 1101.9,654.4 1096.6,658.4" fill="#5a5a5a"/><polygon points="1101.9,934.2 1107.2,919.6 1101.9,923.6 1096.6,919.6" fill="#5a5a5a"/><line x1="1204.6" y1="715.6" x2="1247.1" y2="715.6" stroke="#8a8a8a" stroke-width="1"/><line x1="1204.6" y1="862.4" x2="1247.1" y2="862.4" stroke="#8a8a8a" stroke-width="1"/><line x1="1240.2" y1="721.6" x2="1240.2" y2="856.4" stroke="#8a8a8a" stroke-width="1"/><polygon points="1240.2,715.9 1245.5,730.5 1240.2,726.5 1234.9,730.5" fill="#5a5a5a"/><polygon points="1240.2,862.1 1245.5,847.5 1240.2,851.5 1234.9,847.5" fill="#5a5a5a"/><rect x="1337.5" y="712.6" width="73.1" height="152.8" fill="url(#bore)"/><line x1="1337.5" y1="611.7" x2="1337.5" y2="931.8" stroke="#939393" stroke-width="1"/><line x1="1410.6" y1="611.7" x2="1410.6" y2="931.8" stroke="#939393" stroke-width="1"/><g transform="translate(1337.5,643.2)"><rect x="0" y="14" width="73.1" height="40" fill="url(#gap)"/><path d="M0 6.4C0 2.88 2.88 0 6.4 0L66.7 0C70.22 0 73.1 2.88 73.1 6.4L73.1 15.9Q73.1 17.4 71.6 17.4Q70.4 17.2 69.6 16.1Q68.9 15.3 67.7 15.3L65.2 15.3Q63.6 15.3 63.3 17.1L62.8 20.7Q62.6 22.3 61 22.3L12.1 22.3Q10.5 22.3 10.3 20.7L9.8 17.1Q9.5 15.3 7.9 15.3L5.4 15.3Q4.2 15.3 3.5 16.1Q2.7 17.2 1.5 17.4Q0 17.4 0 15.9Z" fill="#cbdee1" stroke="#7f898b" stroke-width="0.9"/><path d="M0 66C0 69.52 2.88 72.4 6.4 72.4L66.7 72.4C70.22 72.4 73.1 69.52 73.1 66L73.1 56.6Q73.1 55.1 71.6 55.1Q70.4 55.3 69.6 56.4Q68.9 57.2 67.7 57.2L65.2 57.2Q63.6 57.2 63.3 55.4L62.8 51.8Q62.6 50.2 61 50.2L12.1 50.2Q10.5 50.2 10.3 51.8L9.8 55.4Q9.5 57.2 7.9 57.2L5.4 57.2Q4.2 57.2 3.5 56.4Q2.7 55.3 1.5 55.1Q0 55.1 0 56.6Z" fill="#cbdee1" stroke="#7f898b" stroke-width="0.9"/><path d="M9.6 27.3L19 27.3L19 46.5L9.6 46.5Q5.9 36.9 9.6 27.3Z" fill="#bebebe" stroke="#8e8e8e" stroke-width="0.8"/><path d="M13.9 27.3Q11.2 36.9 13.9 46.5L16.2 46.5Q13.6 36.9 16.2 27.3Z" fill="#d9d9d9" stroke="#9a9a9a" stroke-width="0.5"/><path d="M63.5 27.3L54.1 27.3L54.1 46.5L63.5 46.5Q67.2 36.9 63.5 27.3Z" fill="#bebebe" stroke="#8e8e8e" stroke-width="0.8"/><path d="M59.2 27.3Q61.9 36.9 59.2 46.5L56.9 46.5Q59.5 36.9 56.9 27.3Z" fill="#d9d9d9" stroke="#9a9a9a" stroke-width="0.5"/><path d="M1.9 19.2Q2.2 15.4 6.4 15.4Q9.6 15.4 9.7 17.4L9.9 20.9L6.6 21.2Q5.3 21.3 5.3 22.8L5.3 48Q5.3 49.6 6.8 50Q9.6 50.6 9.6 52.6L9.4 55.6Q8 56.9 6.2 56.4Q1.9 54.6 1.9 51.2Z" fill="#a0a0a0" stroke="#747474" stroke-width="0.9" stroke-linejoin="round"/></g><g transform="translate(1337.5,934.8) scale(1,-1)"><rect x="0" y="14" width="73.1" height="40" fill="url(#gap)"/><path d="M0 6.4C0 2.88 2.88 0 6.4 0L66.7 0C70.22 0 73.1 2.88 73.1 6.4L73.1 15.9Q73.1 17.4 71.6 17.4Q70.4 17.2 69.6 16.1Q68.9 15.3 67.7 15.3L65.2 15.3Q63.6 15.3 63.3 17.1L62.8 20.7Q62.6 22.3 61 22.3L12.1 22.3Q10.5 22.3 10.3 20.7L9.8 17.1Q9.5 15.3 7.9 15.3L5.4 15.3Q4.2 15.3 3.5 16.1Q2.7 17.2 1.5 17.4Q0 17.4 0 15.9Z" fill="#cbdee1" stroke="#7f898b" stroke-width="0.9"/><path d="M0 66C0 69.52 2.88 72.4 6.4 72.4L66.7 72.4C70.22 72.4 73.1 69.52 73.1 66L73.1 56.6Q73.1 55.1 71.6 55.1Q70.4 55.3 69.6 56.4Q68.9 57.2 67.7 57.2L65.2 57.2Q63.6 57.2 63.3 55.4L62.8 51.8Q62.6 50.2 61 50.2L12.1 50.2Q10.5 50.2 10.3 51.8L9.8 55.4Q9.5 57.2 7.9 57.2L5.4 57.2Q4.2 57.2 3.5 56.4Q2.7 55.3 1.5 55.1Q0 55.1 0 56.6Z" fill="#cbdee1" stroke="#7f898b" stroke-width="0.9"/><path d="M9.6 27.3L19 27.3L19 46.5L9.6 46.5Q5.9 36.9 9.6 27.3Z" fill="#bebebe" stroke="#8e8e8e" stroke-width="0.8"/><path d="M13.9 27.3Q11.2 36.9 13.9 46.5L16.2 46.5Q13.6 36.9 16.2 27.3Z" fill="#d9d9d9" stroke="#9a9a9a" stroke-width="0.5"/><path d="M63.5 27.3L54.1 27.3L54.1 46.5L63.5 46.5Q67.2 36.9 63.5 27.3Z" fill="#bebebe" stroke="#8e8e8e" stroke-width="0.8"/><path d="M59.2 27.3Q61.9 36.9 59.2 46.5L56.9 46.5Q59.5 36.9 56.9 27.3Z" fill="#d9d9d9" stroke="#9a9a9a" stroke-width="0.5"/><path d="M1.9 19.2Q2.2 15.4 6.4 15.4Q9.6 15.4 9.7 17.4L9.9 20.9L6.6 21.2Q5.3 21.3 5.3 22.8L5.3 48Q5.3 49.6 6.8 50Q9.6 50.6 9.6 52.6L9.4 55.6Q8 56.9 6.2 56.4Q1.9 54.6 1.9 51.2Z" fill="#a0a0a0" stroke="#747474" stroke-width="0.9" stroke-linejoin="round"/></g><circle cx="1374.05" cy="680.05" r="19.5" fill="url(#ball)" stroke="#7d7d7d" stroke-width="0.9"/><circle cx="1374.05" cy="897.95" r="19.5" fill="url(#ball)" stroke="#7d7d7d" stroke-width="0.9"/><line x1="1329.2" y1="788.6" x2="1424.2" y2="788.6" stroke="#8a8a8a" stroke-width="1" stroke-dasharray="12.7 5.9 5.4 5.9"/><line x1="1343.5" y1="618.7" x2="1404.6" y2="618.7" stroke="#8a8a8a" stroke-width="1"/><polygon points="1338.3,618.7 1352.9,613.4 1348.9,618.7 1352.9,624" fill="#5a5a5a"/><polygon points="1409.8,618.7 1395.2,613.4 1399.2,618.7 1395.2,624" fill="#5a5a5a"/><line x1="1297" y1="643.2" x2="1340.5" y2="643.2" stroke="#8a8a8a" stroke-width="1"/><line x1="1297" y1="934.8" x2="1340.5" y2="934.8" stroke="#8a8a8a" stroke-width="1"/><line x1="1304.9" y1="649.2" x2="1304.9" y2="928.8" stroke="#8a8a8a" stroke-width="1"/><polygon points="1304.9,643.8 1310.2,658.4 1304.9,654.4 1299.6,658.4" fill="#5a5a5a"/><polygon points="1304.9,934.2 1310.2,919.6 1304.9,923.6 1299.6,919.6" fill="#5a5a5a"/><line x1="1407.6" y1="715.6" x2="1450.1" y2="715.6" stroke="#8a8a8a" stroke-width="1"/><line x1="1407.6" y1="862.4" x2="1450.1" y2="862.4" stroke="#8a8a8a" stroke-width="1"/><line x1="1443.2" y1="721.6" x2="1443.2" y2="856.4" stroke="#8a8a8a" stroke-width="1"/><polygon points="1443.2,715.9 1448.5,730.5 1443.2,726.5 1437.9,730.5" fill="#5a5a5a"/><polygon points="1443.2,862.1 1448.5,847.5 1443.2,851.5 1437.9,847.5" fill="#5a5a5a"/><rect x="1540.5" y="712.6" width="73.1" height="152.8" fill="url(#bore)"/><line x1="1540.5" y1="611.7" x2="1540.5" y2="931.8" stroke="#939393" stroke-width="1"/><line x1="1613.6" y1="611.7" x2="1613.6" y2="931.8" stroke="#939393" stroke-width="1"/><g transform="translate(1540.5,643.2)"><rect x="0" y="14" width="73.1" height="40" fill="url(#gap)"/><path d="M0 6.4C0 2.88 2.88 0 6.4 0L66.7 0C70.22 0 73.1 2.88 73.1 6.4L73.1 15.9Q73.1 17.4 71.6 17.4Q70.4 17.2 69.6 16.1Q68.9 15.3 67.7 15.3L65.2 15.3Q63.6 15.3 63.3 17.1L62.8 20.7Q62.6 22.3 61 22.3L12.1 22.3Q10.5 22.3 10.3 20.7L9.8 17.1Q9.5 15.3 7.9 15.3L5.4 15.3Q4.2 15.3 3.5 16.1Q2.7 17.2 1.5 17.4Q0 17.4 0 15.9Z" fill="#cbdee1" stroke="#7f898b" stroke-width="0.9"/><path d="M0 66C0 69.52 2.88 72.4 6.4 72.4L66.7 72.4C70.22 72.4 73.1 69.52 73.1 66L73.1 56.6Q73.1 55.1 71.6 55.1Q70.4 55.3 69.6 56.4Q68.9 57.2 67.7 57.2L65.2 57.2Q63.6 57.2 63.3 55.4L62.8 51.8Q62.6 50.2 61 50.2L12.1 50.2Q10.5 50.2 10.3 51.8L9.8 55.4Q9.5 57.2 7.9 57.2L5.4 57.2Q4.2 57.2 3.5 56.4Q2.7 55.3 1.5 55.1Q0 55.1 0 56.6Z" fill="#cbdee1" stroke="#7f898b" stroke-width="0.9"/><path d="M9.6 27.3L19 27.3L19 46.5L9.6 46.5Q5.9 36.9 9.6 27.3Z" fill="#bebebe" stroke="#8e8e8e" stroke-width="0.8"/><path d="M13.9 27.3Q11.2 36.9 13.9 46.5L16.2 46.5Q13.6 36.9 16.2 27.3Z" fill="#d9d9d9" stroke="#9a9a9a" stroke-width="0.5"/><path d="M63.5 27.3L54.1 27.3L54.1 46.5L63.5 46.5Q67.2 36.9 63.5 27.3Z" fill="#bebebe" stroke="#8e8e8e" stroke-width="0.8"/><path d="M59.2 27.3Q61.9 36.9 59.2 46.5L56.9 46.5Q59.5 36.9 56.9 27.3Z" fill="#d9d9d9" stroke="#9a9a9a" stroke-width="0.5"/><path d="M1.9 19.2Q2.2 15.4 6.4 15.4Q9.6 15.4 9.7 17.4L9.9 20.9L6.6 21.2Q5.3 21.3 5.3 22.8L5.3 48Q5.3 49.6 6.8 50Q9.6 50.6 9.6 52.6L9.4 55.6Q8 56.9 6.2 56.4Q1.9 54.6 1.9 51.2Z" fill="#a0a0a0" stroke="#747474" stroke-width="0.9" stroke-linejoin="round"/><path d="M71.2 19.2Q70.9 15.4 66.7 15.4Q63.5 15.4 63.4 17.4L63.2 20.9L66.5 21.2Q67.8 21.3 67.8 22.8L67.8 48Q67.8 49.6 66.3 50Q63.5 50.6 63.5 52.6L63.7 55.6Q65.1 56.9 66.9 56.4Q71.2 54.6 71.2 51.2Z" fill="#a0a0a0" stroke="#747474" stroke-width="0.9" stroke-linejoin="round"/></g><g transform="translate(1540.5,934.8) scale(1,-1)"><rect x="0" y="14" width="73.1" height="40" fill="url(#gap)"/><path d="M0 6.4C0 2.88 2.88 0 6.4 0L66.7 0C70.22 0 73.1 2.88 73.1 6.4L73.1 15.9Q73.1 17.4 71.6 17.4Q70.4 17.2 69.6 16.1Q68.9 15.3 67.7 15.3L65.2 15.3Q63.6 15.3 63.3 17.1L62.8 20.7Q62.6 22.3 61 22.3L12.1 22.3Q10.5 22.3 10.3 20.7L9.8 17.1Q9.5 15.3 7.9 15.3L5.4 15.3Q4.2 15.3 3.5 16.1Q2.7 17.2 1.5 17.4Q0 17.4 0 15.9Z" fill="#cbdee1" stroke="#7f898b" stroke-width="0.9"/><path d="M0 66C0 69.52 2.88 72.4 6.4 72.4L66.7 72.4C70.22 72.4 73.1 69.52 73.1 66L73.1 56.6Q73.1 55.1 71.6 55.1Q70.4 55.3 69.6 56.4Q68.9 57.2 67.7 57.2L65.2 57.2Q63.6 57.2 63.3 55.4L62.8 51.8Q62.6 50.2 61 50.2L12.1 50.2Q10.5 50.2 10.3 51.8L9.8 55.4Q9.5 57.2 7.9 57.2L5.4 57.2Q4.2 57.2 3.5 56.4Q2.7 55.3 1.5 55.1Q0 55.1 0 56.6Z" fill="#cbdee1" stroke="#7f898b" stroke-width="0.9"/><path d="M9.6 27.3L19 27.3L19 46.5L9.6 46.5Q5.9 36.9 9.6 27.3Z" fill="#bebebe" stroke="#8e8e8e" stroke-width="0.8"/><path d="M13.9 27.3Q11.2 36.9 13.9 46.5L16.2 46.5Q13.6 36.9 16.2 27.3Z" fill="#d9d9d9" stroke="#9a9a9a" stroke-width="0.5"/><path d="M63.5 27.3L54.1 27.3L54.1 46.5L63.5 46.5Q67.2 36.9 63.5 27.3Z" fill="#bebebe" stroke="#8e8e8e" stroke-width="0.8"/><path d="M59.2 27.3Q61.9 36.9 59.2 46.5L56.9 46.5Q59.5 36.9 56.9 27.3Z" fill="#d9d9d9" stroke="#9a9a9a" stroke-width="0.5"/><path d="M1.9 19.2Q2.2 15.4 6.4 15.4Q9.6 15.4 9.7 17.4L9.9 20.9L6.6 21.2Q5.3 21.3 5.3 22.8L5.3 48Q5.3 49.6 6.8 50Q9.6 50.6 9.6 52.6L9.4 55.6Q8 56.9 6.2 56.4Q1.9 54.6 1.9 51.2Z" fill="#a0a0a0" stroke="#747474" stroke-width="0.9" stroke-linejoin="round"/><path d="M71.2 19.2Q70.9 15.4 66.7 15.4Q63.5 15.4 63.4 17.4L63.2 20.9L66.5 21.2Q67.8 21.3 67.8 22.8L67.8 48Q67.8 49.6 66.3 50Q63.5 50.6 63.5 52.6L63.7 55.6Q65.1 56.9 66.9 56.4Q71.2 54.6 71.2 51.2Z" fill="#a0a0a0" stroke="#747474" stroke-width="0.9" stroke-linejoin="round"/></g><circle cx="1577.05" cy="680.05" r="19.5" fill="url(#ball)" stroke="#7d7d7d" stroke-width="0.9"/><circle cx="1577.05" cy="897.95" r="19.5" fill="url(#ball)" stroke="#7d7d7d" stroke-width="0.9"/><line x1="1532.2" y1="788.6" x2="1627.2" y2="788.6" stroke="#8a8a8a" stroke-width="1" stroke-dasharray="12.7 5.9 5.4 5.9"/><line x1="1546.5" y1="618.7" x2="1607.6" y2="618.7" stroke="#8a8a8a" stroke-width="1"/><polygon points="1541.3,618.7 1555.9,613.4 1551.9,618.7 1555.9,624" fill="#5a5a5a"/><polygon points="1612.8,618.7 1598.2,613.4 1602.2,618.7 1598.2,624" fill="#5a5a5a"/><line x1="1500" y1="643.2" x2="1543.5" y2="643.2" stroke="#8a8a8a" stroke-width="1"/><line x1="1500" y1="934.8" x2="1543.5" y2="934.8" stroke="#8a8a8a" stroke-width="1"/><line x1="1507.9" y1="649.2" x2="1507.9" y2="928.8" stroke="#8a8a8a" stroke-width="1"/><polygon points="1507.9,643.8 1513.2,658.4 1507.9,654.4 1502.6,658.4" fill="#5a5a5a"/><polygon points="1507.9,934.2 1513.2,919.6 1507.9,923.6 1502.6,919.6" fill="#5a5a5a"/><line x1="1610.6" y1="715.6" x2="1653.1" y2="715.6" stroke="#8a8a8a" stroke-width="1"/><line x1="1610.6" y1="862.4" x2="1653.1" y2="862.4" stroke="#8a8a8a" stroke-width="1"/><line x1="1646.2" y1="721.6" x2="1646.2" y2="856.4" stroke="#8a8a8a" stroke-width="1"/><polygon points="1646.2,715.9 1651.5,730.5 1646.2,726.5 1640.9,730.5" fill="#5a5a5a"/><polygon points="1646.2,862.1 1651.5,847.5 1646.2,851.5 1640.9,847.5" fill="#5a5a5a"/><polygon points="1732.5,623.2 1927.6,623.2 1927.6,660.1 1860.5,660.1 1860.5,642.2 1732.5,642.2" fill="#dbdcdc" stroke="#8e8e8e" stroke-width="0.9"/><rect x="1743.5" y="642.2" width="43.9" height="18" fill="#dde9eb" stroke="#8e8e8e" stroke-width="0.9"/><rect x="1744.9" y="696.4" width="42.5" height="17.9" fill="#dde9eb"/><line x1="1744.9" y1="696.4" x2="1787.4" y2="696.4" stroke="#8e8e8e" stroke-width="0.9"/><line x1="1744.9" y1="714.3" x2="1787.4" y2="714.3" stroke="#8e8e8e" stroke-width="0.9"/><polygon points="1732.5,952.6 1927.6,952.6 1927.6,915.7 1860.5,915.7 1860.5,933.6 1732.5,933.6" fill="#dbdcdc" stroke="#8e8e8e" stroke-width="0.9"/><rect x="1743.5" y="915.6" width="43.9" height="18" fill="#dde9eb" stroke="#8e8e8e" stroke-width="0.9"/><rect x="1744.9" y="861.5" width="42.5" height="17.9" fill="#dde9eb"/><line x1="1744.9" y1="861.5" x2="1787.4" y2="861.5" stroke="#8e8e8e" stroke-width="0.9"/><line x1="1744.9" y1="879.4" x2="1787.4" y2="879.4" stroke="#8e8e8e" stroke-width="0.9"/><rect x="1744.9" y="714.3" width="115.6" height="147.2" fill="#dbdcdc"/><rect x="1860.5" y="696.4" width="65.6" height="183" fill="#dbdcdc"/><line x1="1744.9" y1="714.3" x2="1860.5" y2="714.3" stroke="#8e8e8e" stroke-width="0.9"/><line x1="1744.9" y1="861.5" x2="1860.5" y2="861.5" stroke="#8e8e8e" stroke-width="0.9"/><line x1="1860.5" y1="696.4" x2="1926.1" y2="696.4" stroke="#8e8e8e" stroke-width="0.9"/><line x1="1860.5" y1="879.4" x2="1926.1" y2="879.4" stroke="#8e8e8e" stroke-width="0.9"/><line x1="1860.5" y1="660.1" x2="1860.5" y2="915.7" stroke="#8e8e8e" stroke-width="1"/><g transform="translate(1787.4,642.2)"><rect x="0" y="0" width="73.1" height="72.4" fill="#fff" stroke="#8e8e8e" stroke-width="0.7"/><rect x="0" y="14" width="73.1" height="40" fill="url(#gap)"/><path d="M0 6.4C0 2.88 2.88 0 6.4 0L66.7 0C70.22 0 73.1 2.88 73.1 6.4L73.1 15.9Q73.1 17.4 71.6 17.4Q70.4 17.2 69.6 16.1Q68.9 15.3 67.7 15.3L65.2 15.3Q63.6 15.3 63.3 17.1L62.8 20.7Q62.6 22.3 61 22.3L12.1 22.3Q10.5 22.3 10.3 20.7L9.8 17.1Q9.5 15.3 7.9 15.3L5.4 15.3Q4.2 15.3 3.5 16.1Q2.7 17.2 1.5 17.4Q0 17.4 0 15.9Z" fill="#cbdee1" stroke="#7f898b" stroke-width="0.9"/><path d="M0 50.2L73.1 50.2L73.1 66C73.1 69.52 70.22 72.4 66.7 72.4L6.4 72.4C2.88 72.4 0 69.52 0 66Z" fill="#cbdee1" stroke="#7f898b" stroke-width="0.9"/><path d="M9.6 27.3L19 27.3L19 46.5L9.6 46.5Q5.9 36.9 9.6 27.3Z" fill="#bebebe" stroke="#8e8e8e" stroke-width="0.8"/><path d="M13.9 27.3Q11.2 36.9 13.9 46.5L16.2 46.5Q13.6 36.9 16.2 27.3Z" fill="#d9d9d9" stroke="#9a9a9a" stroke-width="0.5"/><path d="M63.5 27.3L54.1 27.3L54.1 46.5L63.5 46.5Q67.2 36.9 63.5 27.3Z" fill="#bebebe" stroke="#8e8e8e" stroke-width="0.8"/><path d="M59.2 27.3Q61.9 36.9 59.2 46.5L56.9 46.5Q59.5 36.9 56.9 27.3Z" fill="#d9d9d9" stroke="#9a9a9a" stroke-width="0.5"/><path d="M5.2 19.6Q3 19.6 3.2 17.8Q3.6 15.6 6.2 15.6Q9.9 15.4 9.9 18.4Q10.1 21.6 8.4 22.9L5.2 25.4Q4.1 26.3 4.1 27.6L4.1 47.4Q4.1 48.5 5.4 48.5L8.6 48.5" fill="none" stroke="#757575" stroke-width="1.9" stroke-linecap="round" stroke-linejoin="round"/><path d="M5.2 19.6Q3 19.6 3.2 17.8Q3.6 15.6 6.2 15.6Q9.9 15.4 9.9 18.4Q10.1 21.6 8.4 22.9L5.2 25.4Q4.1 26.3 4.1 27.6L4.1 47.4Q4.1 48.5 5.4 48.5L8.6 48.5" fill="none" stroke="#d0d0d0" stroke-width="0.6" stroke-linecap="round" stroke-linejoin="round"/><path d="M67.9 19.6Q70.1 19.6 69.9 17.8Q69.5 15.6 66.9 15.6Q63.2 15.4 63.2 18.4Q63 21.6 64.7 22.9L67.9 25.4Q69 26.3 69 27.6L69 47.4Q69 48.5 67.7 48.5L64.5 48.5" fill="none" stroke="#757575" stroke-width="1.9" stroke-linecap="round" stroke-linejoin="round"/><path d="M67.9 19.6Q70.1 19.6 69.9 17.8Q69.5 15.6 66.9 15.6Q63.2 15.4 63.2 18.4Q63 21.6 64.7 22.9L67.9 25.4Q69 26.3 69 27.6L69 47.4Q69 48.5 67.7 48.5L64.5 48.5" fill="none" stroke="#d0d0d0" stroke-width="0.6" stroke-linecap="round" stroke-linejoin="round"/></g><g transform="translate(1787.4,933.6) scale(1,-1)"><rect x="0" y="0" width="73.1" height="72.4" fill="#fff" stroke="#8e8e8e" stroke-width="0.7"/><rect x="0" y="14" width="73.1" height="40" fill="url(#gap)"/><path d="M0 6.4C0 2.88 2.88 0 6.4 0L66.7 0C70.22 0 73.1 2.88 73.1 6.4L73.1 15.9Q73.1 17.4 71.6 17.4Q70.4 17.2 69.6 16.1Q68.9 15.3 67.7 15.3L65.2 15.3Q63.6 15.3 63.3 17.1L62.8 20.7Q62.6 22.3 61 22.3L12.1 22.3Q10.5 22.3 10.3 20.7L9.8 17.1Q9.5 15.3 7.9 15.3L5.4 15.3Q4.2 15.3 3.5 16.1Q2.7 17.2 1.5 17.4Q0 17.4 0 15.9Z" fill="#cbdee1" stroke="#7f898b" stroke-width="0.9"/><path d="M0 50.2L73.1 50.2L73.1 66C73.1 69.52 70.22 72.4 66.7 72.4L6.4 72.4C2.88 72.4 0 69.52 0 66Z" fill="#cbdee1" stroke="#7f898b" stroke-width="0.9"/><path d="M9.6 27.3L19 27.3L19 46.5L9.6 46.5Q5.9 36.9 9.6 27.3Z" fill="#bebebe" stroke="#8e8e8e" stroke-width="0.8"/><path d="M13.9 27.3Q11.2 36.9 13.9 46.5L16.2 46.5Q13.6 36.9 16.2 27.3Z" fill="#d9d9d9" stroke="#9a9a9a" stroke-width="0.5"/><path d="M63.5 27.3L54.1 27.3L54.1 46.5L63.5 46.5Q67.2 36.9 63.5 27.3Z" fill="#bebebe" stroke="#8e8e8e" stroke-width="0.8"/><path d="M59.2 27.3Q61.9 36.9 59.2 46.5L56.9 46.5Q59.5 36.9 56.9 27.3Z" fill="#d9d9d9" stroke="#9a9a9a" stroke-width="0.5"/><path d="M5.2 19.6Q3 19.6 3.2 17.8Q3.6 15.6 6.2 15.6Q9.9 15.4 9.9 18.4Q10.1 21.6 8.4 22.9L5.2 25.4Q4.1 26.3 4.1 27.6L4.1 47.4Q4.1 48.5 5.4 48.5L8.6 48.5" fill="none" stroke="#757575" stroke-width="1.9" stroke-linecap="round" stroke-linejoin="round"/><path d="M5.2 19.6Q3 19.6 3.2 17.8Q3.6 15.6 6.2 15.6Q9.9 15.4 9.9 18.4Q10.1 21.6 8.4 22.9L5.2 25.4Q4.1 26.3 4.1 27.6L4.1 47.4Q4.1 48.5 5.4 48.5L8.6 48.5" fill="none" stroke="#d0d0d0" stroke-width="0.6" stroke-linecap="round" stroke-linejoin="round"/><path d="M67.9 19.6Q70.1 19.6 69.9 17.8Q69.5 15.6 66.9 15.6Q63.2 15.4 63.2 18.4Q63 21.6 64.7 22.9L67.9 25.4Q69 26.3 69 27.6L69 47.4Q69 48.5 67.7 48.5L64.5 48.5" fill="none" stroke="#757575" stroke-width="1.9" stroke-linecap="round" stroke-linejoin="round"/><path d="M67.9 19.6Q70.1 19.6 69.9 17.8Q69.5 15.6 66.9 15.6Q63.2 15.4 63.2 18.4Q63 21.6 64.7 22.9L67.9 25.4Q69 26.3 69 27.6L69 47.4Q69 48.5 67.7 48.5L64.5 48.5" fill="none" stroke="#d0d0d0" stroke-width="0.6" stroke-linecap="round" stroke-linejoin="round"/></g><circle cx="1823.95" cy="679.05" r="19.5" fill="url(#ball)" stroke="#7d7d7d" stroke-width="0.9"/><circle cx="1823.95" cy="896.75" r="19.5" fill="url(#ball)" stroke="#7d7d7d" stroke-width="0.9"/><line x1="1744.9" y1="682.2" x2="1744.9" y2="893.6" stroke="#8f8f8f" stroke-width="1" stroke-dasharray="4.7 4.5 4.7 4.5 11 4.5"/><line x1="1926.1" y1="682.2" x2="1926.1" y2="893.6" stroke="#8f8f8f" stroke-width="1" stroke-dasharray="4.7 4.5 4.7 4.5 11 4.5"/><line x1="1729.5" y1="787.9" x2="1939" y2="787.9" stroke="#8a8a8a" stroke-width="1" stroke-dasharray="12.7 5.9 5.4 5.9"/><line x1="1701.7" y1="660.2" x2="1743.5" y2="660.2" stroke="#8a8a8a" stroke-width="1"/><line x1="1701.7" y1="915.6" x2="1743.5" y2="915.6" stroke="#8a8a8a" stroke-width="1"/><line x1="1714.2" y1="666" x2="1714.2" y2="909.8" stroke="#8a8a8a" stroke-width="1"/><polygon points="1714.2,660.8 1719.5,675.4 1714.2,671.4 1708.9,675.4" fill="#5a5a5a"/><polygon points="1714.2,915 1719.5,900.4 1714.2,904.4 1708.9,900.4" fill="#5a5a5a"/><line x1="1926.1" y1="696.4" x2="1967.3" y2="696.4" stroke="#8a8a8a" stroke-width="1"/><line x1="1926.1" y1="879.4" x2="1967.3" y2="879.4" stroke="#8a8a8a" stroke-width="1"/><line x1="1955.9" y1="702" x2="1955.9" y2="873.8" stroke="#8a8a8a" stroke-width="1"/><polygon points="1955.9,696.8 1961.2,711.4 1955.9,707.4 1950.6,711.4" fill="#5a5a5a"/><polygon points="1955.9,879 1961.2,864.4 1955.9,868.4 1950.6,864.4" fill="#5a5a5a"/><g transform="translate(1852,1353.5)" clip-path="url(#lgclip)"><rect x="0" y="0" width="40" height="40" fill="#979797"/><circle cx="35.76" cy="35.39" r="38.05" fill="#fff"/><circle cx="35.04" cy="37.43" r="37.6" fill="#04417a"/><path d="M37,40.5L37.3,29Q37.9,24.6 40.5,23.3V40.5Z" fill="#979797"/><circle cx="62.3" cy="39.1" r="45.5" fill="none" stroke="#fff" stroke-width="2.3"/><circle cx="62.9" cy="34.4" r="29.3" fill="none" stroke="#fff" stroke-width="1.7"/><path d="M19.2,26.8A13.1,13.1 0 0 1 33,40.6" fill="none" stroke="#fff" stroke-width="1.8"/><path d="M25.8,11.8A12.6,12.6 0 0 1 36.7,21.2" fill="none" stroke="#fff" stroke-width="1.8"/><path d="M34.8,4.4A12.3,12.3 0 0 1 41,8.6" fill="none" stroke="#fff" stroke-width="1.8"/></g><line x1="1852" y1="1398.4" x2="1979.5" y2="1398.4" stroke="#b4b4b4" stroke-width="1"/></svg>
<div class="txt">
<div class="t" style="left:22.95px;top:44px;font-size:15.6px;color:#6e6e6e;font-weight:700;letter-spacing:0.2px;">48</div>
<div class="t" style="left:69.25px;top:43px;font-size:19.6px;color:#386695;letter-spacing:1.568px;transform:scaleX(0.7652);">LFD</div>
<div class="t" style="left:108.42px;top:43px;font-size:19.6px;color:#d6bd4a;letter-spacing:1.469px;transform:scaleX(0.8168);">RILLENKUGELLAGER</div>
<div class="t" style="left:298.65px;top:44px;font-size:18.4px;color:#a6a6a6;letter-spacing:1.215px;">Produktkatalog</div>
<div class="t" style="left:1610.21px;top:43px;font-size:19.6px;color:#386695;letter-spacing:1.511px;transform:scaleX(0.7942);">LFD</div>
<div class="t" style="left:1649.67px;top:43px;font-size:19.6px;color:#d6bd4a;letter-spacing:1.467px;transform:scaleX(0.8181);">RILLENKUGELLAGER</div>
<div class="t" style="left:1839.9px;top:44px;font-size:18.4px;color:#a6a6a6;letter-spacing:1.254px;">Produktkatalog</div>
<div class="t" style="left:2010.45px;top:44px;font-size:15.6px;color:#6e6e6e;font-weight:700;letter-spacing:0.1px;">49</div>
<div class="t" style="left:70.78px;top:139px;font-size:27px;color:#5c5c5c;font-weight:700;transform:scaleX(0.9809);">1.19</div>
<div class="t" style="left:134.67px;top:139px;font-size:27px;color:#0c3c76;font-weight:700;letter-spacing:1.398px;transform:scaleX(0.9298);">LAGERBEZEICHNUNG</div>
<div class="t" style="left:69.3px;top:191px;font-size:19px;color:#747474;letter-spacing:0.013px;word-spacing:1.67px;">Die vollständige Lagerbezeichnung setzt sich zusammen aus Vorsetzzeichen, Basiskennzeichen und</div>
<div class="t" style="left:69.3px;top:215px;font-size:19px;color:#747474;letter-spacing:-0.073px;">Nachsetzzeichen. Vorsetzzeichen sind im allgemeinen Hinweise auf Sonderausführungen.</div>
<div class="t" style="left:69.3px;top:240px;font-size:19px;color:#747474;letter-spacing:-0.035px;">Rostfreie Werkstoffe werden z.B. mit dem Kürzel für Stainless Steel gekennzeichnet.</div>
<div class="t" style="left:69.3px;top:288px;font-size:19px;color:#747474;letter-spacing:0.013px;word-spacing:2.538px;">Das Basiskennzeichen gibt Auskunft über die Lagerreihe (die ersten zwei Ziffern) und Bohrung (die</div>
<div class="t" style="left:69.55px;top:313px;font-size:19px;color:#747474;letter-spacing:0.013px;word-spacing:1.094px;">letzten zwei Ziffern). Das Bohrungsmaß ist ab Kennziffer 04 der 5-fache Wert der Bohrungskennziffer</div>
<div class="t" style="left:69.55px;top:337px;font-size:19px;color:#747474;letter-spacing:0.086px;">(z.B. ist bei 6208 die Bohrung d = 40 mm groß).</div>
<div class="t" style="left:69.9px;top:362px;font-size:19px;color:#747474;letter-spacing:-0.035px;">Ausnahmen sind hier durch Schrägstriche vor der Kennziffer erkennbar.</div>
<div class="t" style="left:69.9px;top:410px;font-size:19px;color:#747474;letter-spacing:-0.079px;">Als Nachsetzzeichen werden z.B. Käfigausführungen, Deck-/Dichtscheiben, etc. verschlüsselt.</div>
<div class="t" style="left:69.3px;top:435px;font-size:19px;color:#747474;letter-spacing:0.093px;">Die wichtigsten Kurzzeichen sind in der nachfolgenden Tabelle aufgeführt:</div>
<div class="t" style="left:128.67px;top:493px;font-size:21px;color:#386695;transform:scaleX(0.9876);">Kurzzeichen</div>
<div class="t" style="left:288.85px;top:493px;font-size:21px;color:#386695;letter-spacing:0.238px;">Bedeutung</div>
<div class="t" style="left:232.48px;top:528px;font-size:19px;color:#747474;transform:scaleX(0.92);">Z</div>
<div class="t" style="left:289.15px;top:528px;font-size:19px;color:#747474;transform:scaleX(0.9634);">Deckscheibe</div>
<div class="t" style="left:221.71px;top:552px;font-size:19px;color:#747474;transform:scaleX(0.7958);">RS</div>
<div class="t" style="left:289.35px;top:552px;font-size:19px;color:#747474;letter-spacing:-0.052px;">berührende Dichtscheibe</div>
<div class="t" style="left:220.6px;top:577px;font-size:19px;color:#747474;transform:scaleX(0.8645);">RZ</div>
<div class="t" style="left:289.35px;top:577px;font-size:19px;color:#747474;letter-spacing:0.021px;">nicht berührende Dichtscheibe</div>
<div class="t" style="left:231.33px;top:601px;font-size:19px;color:#747474;transform:scaleX(0.92);">N</div>
<div class="t" style="left:289.1px;top:601px;font-size:19px;color:#747474;letter-spacing:0.1px;">Ringnut im Außenring, ohne Sprengring</div>
<div class="t" style="left:217.51px;top:626px;font-size:19px;color:#747474;transform:scaleX(0.924);">NR</div>
<div class="t" style="left:289.1px;top:626px;font-size:19px;color:#747474;letter-spacing:0.146px;">Ringnut im Außenring, mit Sprengring</div>
<div class="t" style="left:231.1px;top:650px;font-size:19px;color:#747474;transform:scaleX(0.92);">V</div>
<div class="t" style="left:290.35px;top:650px;font-size:19px;color:#747474;letter-spacing:0.009px;">verlängerter Innenring, Sonderausführung</div>
<div class="t" style="left:191.92px;top:674px;font-size:19px;color:#747474;transform:scaleX(0.9585);">TNGH</div>
<div class="t" style="left:289.85px;top:674px;font-size:19px;color:#747474;letter-spacing:0.071px;">glasfaserverstärkter Kunstoffkäfig</div>
<div class="t" style="left:229.49px;top:699px;font-size:19px;color:#747474;transform:scaleX(0.92);">M</div>
<div class="t" style="left:289.1px;top:699px;font-size:19px;color:#747474;letter-spacing:0.077px;">Messingkäfig</div>
<div class="t" style="left:218.91px;top:723px;font-size:19px;color:#747474;transform:scaleX(0.9933);">C2</div>
<div class="t" style="left:289.1px;top:723px;font-size:19px;color:#747474;letter-spacing:-0.005px;">Radialluft kleiner als normal</div>
<div class="t" style="left:218.92px;top:748px;font-size:19px;color:#747474;transform:scaleX(0.9822);">C3</div>
<div class="t" style="left:289.1px;top:748px;font-size:19px;color:#747474;letter-spacing:0.004px;">Radialluft größer als normal</div>
<div class="t" style="left:218.93px;top:772px;font-size:19px;color:#747474;transform:scaleX(0.9714);">C4</div>
<div class="t" style="left:289.1px;top:772px;font-size:19px;color:#747474;letter-spacing:-0.093px;">Radialluft größer als C3</div>
<div class="t" style="left:221.0px;top:796px;font-size:19px;color:#747474;transform:scaleX(0.9333);">P6</div>
<div class="t" style="left:289.63px;top:796px;font-size:19px;color:#747474;transform:scaleX(0.9712);">Genauigkeitsklasse 6</div>
<div class="t" style="left:192.49px;top:821px;font-size:19px;color:#747474;transform:scaleX(0.9385);">PX (n)</div>
<div class="t" style="left:289.6px;top:821px;font-size:19px;color:#747474;letter-spacing:-0.077px;">Sondertoleranzen</div>
<div class="t" style="left:204.9px;top:845px;font-size:19px;color:#747474;letter-spacing:-0.038px;">L (n)</div>
<div class="t" style="left:289.64px;top:845px;font-size:19px;color:#747474;transform:scaleX(0.9638);">Schmierfett, z.B. L1 Shell Gadus S2</div>
<div class="t" style="left:220.68px;top:870px;font-size:19px;color:#747474;transform:scaleX(0.8979);">VZ</div>
<div class="t" style="left:290.35px;top:870px;font-size:19px;color:#747474;letter-spacing:-0.007px;">verzinkte Oberflächen</div>
<div class="t" style="left:200.94px;top:894px;font-size:19px;color:#747474;transform:scaleX(0.9718);">EMQ</div>
<div class="t" style="left:289.1px;top:894px;font-size:19px;color:#747474;letter-spacing:0.113px;">Design optimiert (für spezielle Anwendungen wie z.B. Elektromotoren)</div>
<div class="t" style="left:165.78px;top:960px;font-size:21px;color:#386695;transform:scaleX(0.9835);">Beispiel:</div>
<div class="t" style="left:289.1px;top:960px;font-size:21px;color:#747474;letter-spacing:1.033px;">6204</div>
<div class="t" style="left:352.84px;top:960px;font-size:21px;color:#747474;transform:scaleX(0.8784);">ZZ</div>
<div class="t" style="left:390.44px;top:960px;font-size:21px;color:#747474;transform:scaleX(0.956);">C3</div>
<div class="t" style="left:430.75px;top:960px;font-size:21px;color:#747474;transform:scaleX(0.9415);">L2</div>
<div class="t" style="left:468.02px;top:960px;font-size:21px;color:#747474;transform:scaleX(0.8459);">PX1</div>
<div class="t" style="left:184.45px;top:1019px;font-size:17.6px;color:#747474;transform:scaleX(0.9013);">Basiskennzeichen</div>
<div class="t" style="left:511.26px;top:994px;font-size:17.6px;color:#747474;transform:scaleX(0.9396);">Sondertoleranz</div>
<div class="t" style="left:471.27px;top:1046px;font-size:17.6px;color:#747474;transform:scaleX(0.9552);">Fettsorte</div>
<div class="t" style="left:197.63px;top:1079px;font-size:17.6px;color:#747474;transform:scaleX(0.9382);">beidseitig Deckscheibe</div>
<div class="t" style="left:396.55px;top:1079px;font-size:17.6px;color:#747474;transform:scaleX(0.9658);">Lagerluft C3</div>
<div class="t" style="left:397.28px;top:1099px;font-size:17.6px;color:#747474;transform:scaleX(0.9571);">erhöht gegenüber Standard</div>
<div class="t" style="left:166.0px;top:1169px;font-size:21px;color:#386695;transform:scaleX(0.9703);">Beispiel:</div>
<div class="t" style="left:289.45px;top:1169px;font-size:21px;color:#747474;letter-spacing:0.214px;">EMQ 6204</div>
<div class="t" style="left:68.39px;top:1395px;font-size:15.4px;color:#386695;letter-spacing:2.696px;transform:scaleX(0.8903);">EINFACH</div>
<div class="t" style="left:151.0px;top:1395px;font-size:15.4px;color:#98cc52;letter-spacing:2.73px;transform:scaleX(0.8791);">ÜBERALL</div>
<div class="t" style="left:235.25px;top:1395px;font-size:15.4px;color:#386695;letter-spacing:2.617px;transform:scaleX(0.9171);">DRIN</div>
<div class="t" style="left:1635.75px;top:1395px;font-size:15.8px;color:#9e9e9e;letter-spacing:0.474px;">Erfolgreich durch Präzision.</div>
<div class="t" style="left:1851.6px;top:1395px;font-size:15px;color:#979797;letter-spacing:4.556px;">WÄLZLAGER</div>
<div class="t" style="left:1167.25px;top:191px;font-size:16.6px;color:#7a7a7a;transform:scaleX(0.8);">B</div>
<div class="t" style="left:1083.17px;top:372px;font-size:16.6px;color:#7a7a7a;transform:scaleX(0.9);">D</div>
<div class="t" style="left:1249.35px;top:372px;font-size:16.6px;color:#7a7a7a;transform:scaleX(0.9);">d</div>
<div class="t" style="left:1370.25px;top:191px;font-size:16.6px;color:#7a7a7a;transform:scaleX(0.8);">B</div>
<div class="t" style="left:1286.17px;top:372px;font-size:16.6px;color:#7a7a7a;transform:scaleX(0.9);">D</div>
<div class="t" style="left:1452.35px;top:372px;font-size:16.6px;color:#7a7a7a;transform:scaleX(0.9);">d</div>
<div class="t" style="left:1573.25px;top:191px;font-size:16.6px;color:#7a7a7a;transform:scaleX(0.8);">B</div>
<div class="t" style="left:1489.17px;top:372px;font-size:16.6px;color:#7a7a7a;transform:scaleX(0.9);">D</div>
<div class="t" style="left:1655.35px;top:372px;font-size:16.6px;color:#7a7a7a;transform:scaleX(0.9);">d</div>
<div class="t" style="left:1776.25px;top:191px;font-size:16.6px;color:#7a7a7a;transform:scaleX(0.8);">B</div>
<div class="t" style="left:1692.17px;top:372px;font-size:16.6px;color:#7a7a7a;transform:scaleX(0.9);">D</div>
<div class="t" style="left:1858.35px;top:372px;font-size:16.6px;color:#7a7a7a;transform:scaleX(0.9);">d</div>
<div class="t" style="left:1167.25px;top:591px;font-size:16.6px;color:#7a7a7a;transform:scaleX(0.8);">B</div>
<div class="t" style="left:1083.17px;top:772px;font-size:16.6px;color:#7a7a7a;transform:scaleX(0.9);">D</div>
<div class="t" style="left:1249.35px;top:772px;font-size:16.6px;color:#7a7a7a;transform:scaleX(0.9);">d</div>
<div class="t" style="left:1370.25px;top:591px;font-size:16.6px;color:#7a7a7a;transform:scaleX(0.8);">B</div>
<div class="t" style="left:1286.17px;top:772px;font-size:16.6px;color:#7a7a7a;transform:scaleX(0.9);">D</div>
<div class="t" style="left:1452.35px;top:772px;font-size:16.6px;color:#7a7a7a;transform:scaleX(0.9);">d</div>
<div class="t" style="left:1573.25px;top:591px;font-size:16.6px;color:#7a7a7a;transform:scaleX(0.8);">B</div>
<div class="t" style="left:1489.17px;top:772px;font-size:16.6px;color:#7a7a7a;transform:scaleX(0.9);">D</div>
<div class="t" style="left:1655.35px;top:772px;font-size:16.6px;color:#7a7a7a;transform:scaleX(0.9);">d</div>
<div class="t" style="left:1150.85px;top:541px;font-size:16.8px;color:#386695;letter-spacing:0.712px;">offen</div>
<div class="t" style="left:1366.93px;top:541px;font-size:16.8px;color:#386695;transform:scaleX(0.8897);">-Z</div>
<div class="t" style="left:1565.64px;top:541px;font-size:16.8px;color:#386695;transform:scaleX(0.8808);">-ZZ</div>
<div class="t" style="left:1768.38px;top:541px;font-size:16.8px;color:#386695;transform:scaleX(0.8294);">-RS</div>
<div class="t" style="left:1154.05px;top:941px;font-size:16.8px;color:#386695;transform:scaleX(0.8707);">-2RS</div>
<div class="t" style="left:1357.18px;top:941px;font-size:16.8px;color:#386695;transform:scaleX(0.9564);">-RZ*</div>
<div class="t" style="left:1556.4px;top:941px;font-size:16.8px;color:#386695;transform:scaleX(0.931);">-2RZ*</div>
<div class="t" style="left:1765.8px;top:964px;font-size:16.8px;color:#386695;transform:scaleX(0.9457);">Anschlussmaße</div>
<div class="t" style="left:1107.05px;top:986px;font-size:17.2px;color:#7a7a7a;letter-spacing:-0.104px;">* RZ-Dichtung auf Anfrage</div>
<div class="t" style="left:1683.76px;top:771px;font-size:16.6px;color:#7a7a7a;transform:scaleX(0.91);">Da</div>
<div class="t" style="left:1965.23px;top:771px;font-size:16.6px;color:#7a7a7a;transform:scaleX(0.8901);">da</div>
<div class="lfd"><span style="left:1897.4px;transform:scaleX(0.667)">L</span><span style="left:1919.8px;transform:scaleX(0.728)">F</span><span style="left:1943.6px;transform:scaleX(0.905)">D</span></div>
</div>
</body></html>
